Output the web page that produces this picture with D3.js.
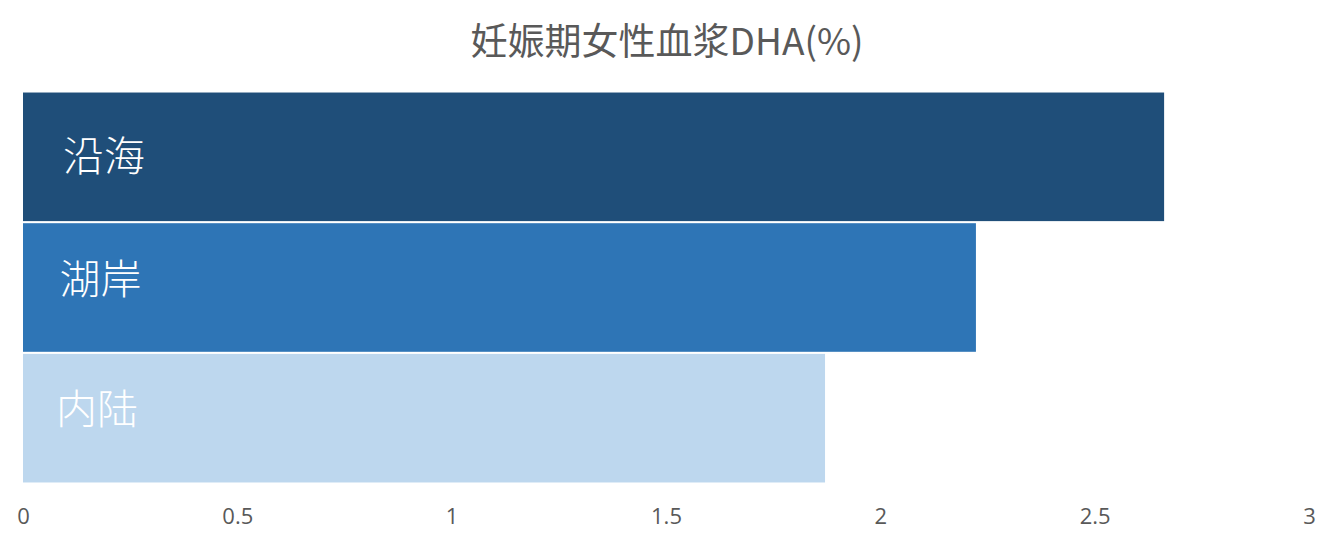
<!DOCTYPE html>
<html>
<head>
<meta charset="utf-8">
<script src="https://cdn.jsdelivr.net/npm/d3@7"></script>
<style>
  html, body { margin: 0; padding: 0; background: #fff; }
  svg { display: block; font-family: "Noto Sans CJK SC", "Open Sans", sans-serif; }
</style>
</head>
<body>
<svg id="chart" width="1334" height="548"></svg>
<script>
// ---- data ----
const categories = ["沿海", "湖岸", "内陆"];
const values = [2.662, 2.223, 1.871];
const barColors = ["#1F4E79", "#2E75B6", "#BDD7EE"];
const xTicks = [0, 0.5, 1, 1.5, 2, 2.5, 3];
const title = "妊娠期女性血浆DHA(%)";

const svg = d3.select("#chart");
const width = +svg.attr("width");
const height = +svg.attr("height");
const margin = { top: 92, right: 25, bottom: 65, left: 23 };
const innerWidth = width - margin.left - margin.right;
const innerHeight = height - margin.top - margin.bottom;

const g = svg.append("g")
  .attr("transform", `translate(${margin.left},${margin.top})`);

const x = d3.scaleLinear().domain([0, 3]).range([0, innerWidth]);
const y = d3.scaleBand().domain(categories).range([0, innerHeight])
  .paddingInner(0.016).paddingOuter(0.004);

// title
svg.append("text")
  .attr("x", 667)
  .attr("y", 42)
  .attr("dy", "0.35em")
  .attr("text-anchor", "middle")
  .attr("fill", "#595959")
  .attr("font-size", 37)
  .text(title);

// bars
g.selectAll("rect.bar")
  .data(categories)
  .join("rect")
  .attr("class", "bar")
  .attr("x", 0)
  .attr("y", (d) => y(d))
  .attr("width", (d, i) => x(values[i]) - x(0))
  .attr("height", y.bandwidth())
  .attr("fill", (d, i) => barColors[i]);

// category labels inside bars (slightly above centre, like the original)
g.selectAll("text.cat")
  .data(categories)
  .join("text")
  .attr("class", "cat")
  .attr("x", (d, i) => 40 - i * 3.5)
  .attr("y", (d, i) => y(d) + y.bandwidth() / 2 - Math.min(i, 1) * 7 - i)
  .attr("dy", "0.35em")
  .attr("fill", "#fff")
  .attr("font-size", 41)
  .attr("font-weight", 300)
  .text((d) => d);

// x axis (labels only)
const xAxis = d3.axisBottom(x)
  .tickValues(xTicks)
  .tickFormat(d3.format("~g"))
  .tickSize(0)
  .tickPadding(0);

g.append("g")
  .attr("transform", `translate(0,${innerHeight + 33})`)
  .call(xAxis)
  .call((a) => a.select(".domain").remove())
  .call((a) => a.selectAll("text")
    .attr("fill", "#595959")
    .attr("dy", "0.35em")
    .style("font-size", "22px")
    .style("font-family", "'Open Sans', 'Noto Sans CJK SC', sans-serif"));
</script>
</body>
</html>
